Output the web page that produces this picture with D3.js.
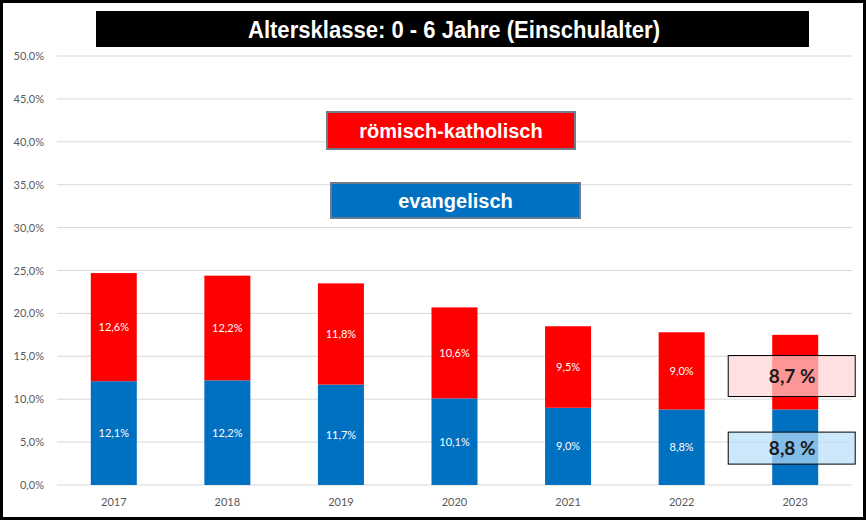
<!DOCTYPE html>
<html>
<head>
<meta charset="utf-8">
<script src="https://cdn.jsdelivr.net/npm/d3@7"></script>
<style>
  body { margin: 0; background: #fff; }
</style>
</head>
<body>
<div class="chart"></div>
<script>
const years = ["2017", "2018", "2019", "2020", "2021", "2022", "2023"]
const evangelisch = [12.1, 12.2, 11.7, 10.1, 9.0, 8.8, 8.8]
const katholisch = [12.6, 12.2, 11.8, 10.6, 9.5, 9.0, 8.7]
const yTicks = [0, 5, 10, 15, 20, 25, 30, 35, 40, 45, 50]

const W = 868, H = 521
const margin = { top: 56, right: 16, bottom: 36, left: 57 }
const width = W - margin.left - margin.right
const height = H - margin.top - margin.bottom

const fmt = v => d3.format(".1f")(v).replace(".", ",")

const svg = d3.select(".chart")
    .append("svg")
    .attr("width", W)
    .attr("height", H)

// outer frame
svg.append("rect")
    .attr("x", 1.5).attr("y", 1.5)
    .attr("width", W - 5).attr("height", H - 4)
    .style("fill", "#fff")
    .style("stroke", "#000")
    .style("stroke-width", 3)

const g = svg.append("g")
    .attr("transform", `translate(${margin.left},${margin.top})`)

const x = d3.scaleBand()
    .domain(years)
    .range([0, width])
    .paddingInner(0.595)
    .paddingOuter(0.2975)

const y = d3.scaleLinear()
    .domain([0, 50])
    .range([height, 0])

// grid
g.selectAll("line.grid")
    .data(yTicks)
    .enter().append("line")
    .attr("class", "grid")
    .attr("x1", 0)
    .attr("x2", width)
    .attr("y1", d => y(d))
    .attr("y2", d => y(d))
    .style("stroke", "#d9d9d9")
    .style("stroke-width", 1)

const yAxis = d3.axisLeft(y)
    .tickValues(yTicks)
    .tickSize(0)
    .tickPadding(13)
    .tickFormat(d => fmt(d) + "%")

g.append("g")
    .call(yAxis)
    .call(a => a.select(".domain").remove())
    .selectAll("text")
    .style("font-family", "Lato, 'Open Sans', sans-serif")
    .style("font-size", "11px")
    .style("fill", "#595959")

const xAxis = d3.axisBottom(x).tickSize(0).tickPadding(13)

g.append("g")
    .attr("transform", `translate(0,${height})`)
    .call(xAxis)
    .call(a => a.select(".domain").remove())
    .selectAll("text")
    .style("font-family", "Lato, 'Open Sans', sans-serif")
    .style("font-size", "11px")
    .style("fill", "#595959")

const rows = years.map((yr, i) => ({ year: yr, ev: evangelisch[i], rk: katholisch[i] }))

// evangelisch (bottom)
g.selectAll(".bar-ev")
    .data(rows)
    .enter().append("rect")
    .attr("class", "bar-ev")
    .attr("x", d => x(d.year))
    .attr("width", x.bandwidth())
    .attr("y", d => y(d.ev))
    .attr("height", d => y(0) - y(d.ev))
    .style("fill", "#0070c0")

// römisch-katholisch (top)
g.selectAll(".bar-rk")
    .data(rows)
    .enter().append("rect")
    .attr("class", "bar-rk")
    .attr("x", d => x(d.year))
    .attr("width", x.bandwidth())
    .attr("y", d => y(d.ev + d.rk))
    .attr("height", d => y(d.ev) - y(d.ev + d.rk))
    .style("fill", "#ff0000")

// segment labels (2023 is covered by the callouts)
const labelled = rows.slice(0, rows.length - 1)

g.selectAll(".lab-ev")
    .data(labelled)
    .enter().append("text")
    .attr("x", d => x(d.year) + x.bandwidth() / 2)
    .attr("y", d => y(d.ev / 2))
    .attr("dy", ".35em")
    .attr("text-anchor", "middle")
    .style("font-family", "Lato, 'Open Sans', sans-serif")
    .style("font-size", "11px")
    .style("fill", "#fff")
    .text(d => fmt(d.ev) + "%")

g.selectAll(".lab-rk")
    .data(labelled)
    .enter().append("text")
    .attr("x", d => x(d.year) + x.bandwidth() / 2)
    .attr("y", d => y(d.ev + d.rk / 2))
    .attr("dy", ".35em")
    .attr("text-anchor", "middle")
    .style("font-family", "Lato, 'Open Sans', sans-serif")
    .style("font-size", "11px")
    .style("fill", "#fff")
    .text(d => fmt(d.rk) + "%")

// callouts for 2023
const last = rows[rows.length - 1]
const cx = x(last.year) + x.bandwidth() / 2
const callouts = [
    { v: last.rk, cy: y(12.7), h: 41, fill: "rgba(255,211,211,0.71)" },
    { v: last.ev, cy: y(4.3), h: 32, fill: "rgba(183,223,248,0.71)" }
]
callouts.forEach(c => {
    g.append("rect")
        .attr("x", cx - 67)
        .attr("y", c.cy - c.h / 2)
        .attr("width", 127)
        .attr("height", c.h)
        .style("fill", c.fill)
        .style("stroke", "#000")
        .style("stroke-width", 1)
    g.append("text")
        .attr("x", cx - 3)
        .attr("y", c.cy)
        .attr("dy", ".35em")
        .attr("text-anchor", "middle")
        .style("font-family", "Lato, 'Open Sans', sans-serif")
        .style("font-size", "19px")
        .style("font-weight", "bold")
        .style("fill", "#1a1a1a")
        .text(fmt(c.v) + " %")
})

// legend boxes
const legend = [
    { name: "römisch-katholisch", fill: "#ff0000", x: 327, y: 112, w: 248, h: 37 },
    { name: "evangelisch", fill: "#0070c0", x: 331, y: 183, w: 249, h: 35 }
]
legend.forEach(l => {
    svg.append("rect")
        .attr("x", l.x).attr("y", l.y)
        .attr("width", l.w).attr("height", l.h)
        .style("fill", l.fill)
        .style("stroke", "#6d7d8b")
        .style("stroke-width", 2)
    svg.append("text")
        .attr("x", l.x + l.w / 2)
        .attr("y", l.y + l.h / 2)
        .attr("dy", ".36em")
        .attr("text-anchor", "middle")
        .style("font-family", "'Liberation Sans', Arial, sans-serif")
        .style("font-size", "20px")
        .style("font-weight", "bold")
        .style("fill", "#fff")
        .text(l.name)
})

// title (narrow face emulated by horizontal scaling)
svg.append("rect")
    .attr("x", 96).attr("y", 11)
    .attr("width", 713).attr("height", 36)
    .style("fill", "#000")

svg.append("text")
    .attr("transform", "translate(454,29) scale(0.92,1)")
    .attr("dy", ".36em")
    .attr("text-anchor", "middle")
    .style("font-family", "'Liberation Sans', Arial, sans-serif")
    .style("font-size", "24px")
    .style("font-weight", "bold")
    .style("fill", "#fff")
    .text("Altersklasse: 0 - 6 Jahre (Einschulalter)")
</script>
</body>
</html>
